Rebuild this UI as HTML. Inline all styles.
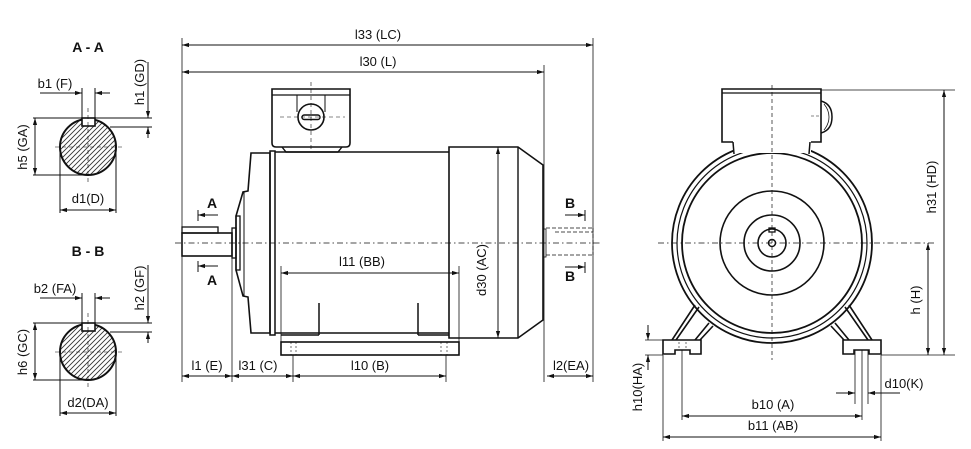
<!DOCTYPE html>
<html><head><meta charset="utf-8"><style>
html,body{margin:0;padding:0;background:#fff;}
svg{display:block;}
text{font-family:"Liberation Sans",sans-serif;font-size:13px;fill:#111;}
.b{font-weight:bold;font-size:14px;}
</style></head><body>
<svg width="971" height="449" viewBox="0 0 971 449" xmlns="http://www.w3.org/2000/svg">
<defs>
<marker id="ar" viewBox="0 0 10 10" refX="10" refY="5" markerWidth="7" markerHeight="7" orient="auto-start-reverse"><path d="M0,2 L10,5 L0,8 Z" fill="#111"/></marker>
<clipPath id="cc"><circle cx="0" cy="0" r="28"/></clipPath>
<g id="hatch" stroke="#333" stroke-width="0.9">
<line x1="-85" y1="30" x2="-25" y2="-30"/><line x1="-80" y1="30" x2="-20" y2="-30"/><line x1="-75" y1="30" x2="-15" y2="-30"/><line x1="-70" y1="30" x2="-10" y2="-30"/><line x1="-65" y1="30" x2="-5" y2="-30"/><line x1="-60" y1="30" x2="0" y2="-30"/><line x1="-55" y1="30" x2="5" y2="-30"/><line x1="-50" y1="30" x2="10" y2="-30"/><line x1="-45" y1="30" x2="15" y2="-30"/><line x1="-40" y1="30" x2="20" y2="-30"/><line x1="-35" y1="30" x2="25" y2="-30"/><line x1="-30" y1="30" x2="30" y2="-30"/><line x1="-25" y1="30" x2="35" y2="-30"/><line x1="-20" y1="30" x2="40" y2="-30"/><line x1="-15" y1="30" x2="45" y2="-30"/><line x1="-10" y1="30" x2="50" y2="-30"/><line x1="-5" y1="30" x2="55" y2="-30"/><line x1="0" y1="30" x2="60" y2="-30"/><line x1="5" y1="30" x2="65" y2="-30"/><line x1="10" y1="30" x2="70" y2="-30"/><line x1="15" y1="30" x2="75" y2="-30"/><line x1="20" y1="30" x2="80" y2="-30"/><line x1="25" y1="30" x2="85" y2="-30"/>
</g>
</defs>
<g transform="translate(88,147)" clip-path="url(#cc)"><use href="#hatch"/></g>
<g transform="translate(88,352)" clip-path="url(#cc)"><use href="#hatch"/></g>
<g fill="none" stroke="#111" stroke-width="1">
<!-- ===== Section A-A ===== -->
<circle cx="88" cy="147" r="28" stroke-width="2"/>
<rect x="82" y="118" width="13" height="8" fill="#fff" stroke-width="1.6"/>
<line x1="55" y1="147" x2="123" y2="147" stroke-dasharray="4,3" stroke-width="0.6"/>
<line x1="88" y1="108" x2="88" y2="182" stroke-dasharray="4,3" stroke-width="0.6"/>
<line x1="82" y1="88" x2="82" y2="118"/><line x1="95" y1="88" x2="95" y2="118"/>
<line x1="40" y1="93" x2="82" y2="93" marker-end="url(#ar)"/><line x1="110" y1="93" x2="95" y2="93" marker-end="url(#ar)"/>
<line x1="33" y1="118" x2="152" y2="118"/><line x1="110" y1="127" x2="152" y2="127"/>
<line x1="148" y1="62" x2="148" y2="118" marker-end="url(#ar)"/><line x1="148" y1="138" x2="148" y2="127" marker-end="url(#ar)"/>
<line x1="35" y1="118" x2="35" y2="175" marker-start="url(#ar)" marker-end="url(#ar)"/>
<line x1="33" y1="175" x2="88" y2="175"/>
<line x1="60" y1="147" x2="60" y2="213"/><line x1="116" y1="147" x2="116" y2="213"/>
<line x1="60" y1="210" x2="116" y2="210" marker-start="url(#ar)" marker-end="url(#ar)"/>
<!-- ===== Section B-B ===== -->
<circle cx="88" cy="352" r="28" stroke-width="2"/>
<rect x="82" y="323" width="13" height="8" fill="#fff" stroke-width="1.6"/>
<line x1="55" y1="352" x2="123" y2="352" stroke-dasharray="4,3" stroke-width="0.6"/>
<line x1="88" y1="313" x2="88" y2="387" stroke-dasharray="4,3" stroke-width="0.6"/>
<line x1="82" y1="293" x2="82" y2="323"/><line x1="95" y1="293" x2="95" y2="323"/>
<line x1="40" y1="298" x2="82" y2="298" marker-end="url(#ar)"/><line x1="110" y1="298" x2="95" y2="298" marker-end="url(#ar)"/>
<line x1="33" y1="323" x2="152" y2="323"/><line x1="110" y1="332" x2="152" y2="332"/>
<line x1="148" y1="265" x2="148" y2="323" marker-end="url(#ar)"/><line x1="148" y1="343" x2="148" y2="332" marker-end="url(#ar)"/>
<line x1="35" y1="323" x2="35" y2="380" marker-start="url(#ar)" marker-end="url(#ar)"/>
<line x1="33" y1="380" x2="88" y2="380"/>
<line x1="60" y1="352" x2="60" y2="416"/><line x1="116" y1="352" x2="116" y2="416"/>
<line x1="60" y1="413" x2="116" y2="413" marker-start="url(#ar)" marker-end="url(#ar)"/>

<!-- ===== Side view ===== -->
<line x1="182" y1="38" x2="182" y2="382" stroke-width="0.8"/>
<line x1="593" y1="38" x2="593" y2="382" stroke-width="0.8"/>
<line x1="544" y1="65" x2="544" y2="382" stroke-width="0.8"/>
<line x1="182" y1="45" x2="593" y2="45" marker-start="url(#ar)" marker-end="url(#ar)"/>
<line x1="182" y1="72" x2="544" y2="72" marker-start="url(#ar)" marker-end="url(#ar)"/>
<path d="M272,89 H350 V143 Q350,147 346,147 H276 Q272,147 272,143 Z" stroke-width="1.6"/>
<line x1="272" y1="95" x2="350" y2="95" stroke-width="1.2"/>
<path d="M282,147 L286,152 H338 L342,147" stroke-width="1.4"/>
<line x1="297" y1="95" x2="297" y2="112"/><line x1="325" y1="95" x2="325" y2="112"/>
<circle cx="311" cy="117" r="13" fill="#fff" stroke-width="1.6"/>
<rect x="302" y="115" width="18" height="4.5" rx="2.2" stroke-width="1.4"/>
<line x1="280" y1="117" x2="345" y2="117" stroke-dasharray="4,3" stroke-width="0.6"/>
<line x1="311" y1="82" x2="311" y2="150" stroke-dasharray="4,3" stroke-width="0.6"/>
<path d="M251,153 L270,153 L270,333 L251,333 L248,297 L243,296 L236,270 L236,216 L243,192 L248,191 Z" stroke-width="1.6"/>
<line x1="244" y1="192" x2="244" y2="296"/>
<rect x="236" y="216" width="4" height="54" stroke-width="1.3"/>
<rect x="232" y="228" width="4" height="30" stroke-width="1.3"/>
<rect x="270" y="151" width="5" height="184" stroke-width="1.5"/>
<rect x="182" y="233" width="50" height="23" stroke-width="1.6"/>
<rect x="182" y="227" width="36" height="6" stroke-width="1.3"/>
<path d="M275,152 H449 M275,333 H449" stroke-width="1.6"/>
<path d="M449,147 H518 L543,165 V320 L518,338 H449 Z" stroke-width="1.6"/>
<line x1="518" y1="147" x2="518" y2="338" stroke-width="1.4"/>
<line x1="319" y1="303" x2="319" y2="335" stroke-width="1.5"/>
<line x1="418" y1="303" x2="418" y2="335" stroke-width="1.5"/>
<path d="M281,335 H319 M418,335 H449" stroke-width="1.5"/>
<rect x="281" y="342" width="178" height="13" stroke-width="1.6"/>
<path d="M291,342 V355 M296,342 V355 M441,342 V355 M447,342 V355" stroke-dasharray="2,2" stroke-width="0.6"/>
<rect x="543" y="229" width="3" height="28" stroke-width="0.8"/>
<path d="M546,228 H593 M555,232 H593 M546,255 H593 M593,228 V255" stroke-dasharray="4,2" stroke-width="0.8"/>
<line x1="175" y1="243" x2="600" y2="243" stroke-dasharray="6,3,1.5,3" stroke-width="0.7"/>
<line x1="218" y1="215" x2="198" y2="215" marker-end="url(#ar)"/><line x1="198" y1="210" x2="198" y2="221"/>
<line x1="218" y1="266" x2="198" y2="266" marker-end="url(#ar)"/><line x1="198" y1="261" x2="198" y2="272"/>
<line x1="565" y1="215" x2="585" y2="215" marker-end="url(#ar)"/><line x1="585" y1="210" x2="585" y2="221"/>
<line x1="565" y1="267" x2="585" y2="267" marker-end="url(#ar)"/><line x1="585" y1="262" x2="585" y2="273"/>
<line x1="281" y1="273" x2="459" y2="273" marker-start="url(#ar)" marker-end="url(#ar)"/>
<line x1="281" y1="266" x2="281" y2="342" stroke-width="0.8"/>
<line x1="459" y1="266" x2="459" y2="342" stroke-width="0.8"/>
<line x1="498" y1="147" x2="498" y2="338" marker-start="url(#ar)" marker-end="url(#ar)"/>
<line x1="232" y1="258" x2="232" y2="382" stroke-width="0.8"/>
<line x1="293" y1="355" x2="293" y2="382" stroke-width="0.8"/>
<line x1="446" y1="355" x2="446" y2="382" stroke-width="0.8"/>
<line x1="182" y1="376" x2="232" y2="376" marker-start="url(#ar)" marker-end="url(#ar)"/>
<line x1="232" y1="376" x2="293" y2="376" marker-start="url(#ar)" marker-end="url(#ar)"/>
<line x1="293" y1="376" x2="446" y2="376" marker-start="url(#ar)" marker-end="url(#ar)"/>
<line x1="547" y1="376" x2="593" y2="376" marker-start="url(#ar)" marker-end="url(#ar)"/>

<!-- ===== Front view ===== -->
<path d="M722,89 H821 V142 H722 Z" stroke-width="1.6"/>
<line x1="722" y1="93" x2="821" y2="93" stroke-width="1.2"/>
<path d="M821,101 Q832,104 832,117 Q832,130 821,133" stroke-width="1.5"/>
<path d="M824,104 Q829,110 829,117 Q829,124 824,130" stroke-width="0.8"/>
<line x1="811" y1="116" x2="821" y2="116" stroke-dasharray="3,2" stroke-width="0.6"/>
<circle cx="772" cy="243" r="100" stroke-width="1.8" fill="#fff"/>
<circle cx="772" cy="243" r="95" stroke-width="1.2"/>
<circle cx="772" cy="243" r="90" stroke-width="1.8"/>
<rect x="733" y="140" width="78" height="13" fill="#fff" stroke="none"/>
<path d="M733,142 L734,154 M810,142 L809,154" stroke-width="1.5"/>
<circle cx="772" cy="243" r="52" stroke-width="1.6"/>
<circle cx="772" cy="243" r="28" stroke-width="1.6"/>
<circle cx="772" cy="243" r="14" stroke-width="1.6"/>
<circle cx="772" cy="243" r="3.5" stroke-width="1.5"/>
<rect x="769" y="228" width="6" height="4" stroke-width="1.3"/>
<g stroke-width="1.6">
<path d="M672,340 L695,305 M676,340 L699,307"/>
<path d="M695,340 L709,323 M700,340 L713,326"/>
<path d="M663,340 H701 V354 H690 V350 H675 V354 H663 Z" fill="#fff"/>
<path d="M872,340 L849,305 M868,340 L845,307"/>
<path d="M849,340 L835,323 M844,340 L831,326"/>
<path d="M881,340 H843 V354 H854 V350 H869 V354 H881 Z" fill="#fff"/>
</g>
<path d="M679,342 V350 M686,342 V350" stroke-dasharray="2,2" stroke-width="0.6"/>
<line x1="658" y1="243" x2="935" y2="243" stroke-dasharray="6,3,1.5,3" stroke-width="0.7"/>
<line x1="772" y1="85" x2="772" y2="360" stroke-dasharray="4,3" stroke-width="0.7"/>
<line x1="821" y1="90" x2="955" y2="90" stroke-width="0.8"/>
<line x1="881" y1="355" x2="955" y2="355" stroke-width="0.8"/>
<line x1="944" y1="90" x2="944" y2="355" marker-start="url(#ar)" marker-end="url(#ar)"/>
<line x1="928" y1="243" x2="928" y2="355" marker-start="url(#ar)" marker-end="url(#ar)"/>
<line x1="645" y1="340" x2="663" y2="340" stroke-width="0.8"/>
<line x1="645" y1="355" x2="663" y2="355" stroke-width="0.8"/>
<line x1="648" y1="325" x2="648" y2="340" marker-end="url(#ar)"/>
<line x1="648" y1="370" x2="648" y2="355" marker-end="url(#ar)"/>
<line x1="663" y1="355" x2="663" y2="441" stroke-width="0.8"/>
<line x1="881" y1="355" x2="881" y2="441" stroke-width="0.8"/>
<line x1="682" y1="350" x2="682" y2="420" stroke-width="0.8"/>
<path d="M855,350 V404 M862,350 V420 M868,350 V404" stroke-width="0.8"/>
<line x1="682" y1="416" x2="862" y2="416" marker-start="url(#ar)" marker-end="url(#ar)"/>
<line x1="663" y1="437" x2="881" y2="437" marker-start="url(#ar)" marker-end="url(#ar)"/>
<line x1="836" y1="393" x2="855" y2="393" marker-end="url(#ar)"/>
<line x1="900" y1="393" x2="868" y2="393" marker-end="url(#ar)"/>
</g>
<text x="88" y="52" class="b" text-anchor="middle">A - A</text>
<text x="55" y="88" text-anchor="middle">b1 (F)</text>
<text transform="translate(144,82) rotate(-90)" text-anchor="middle">h1 (GD)</text>
<text transform="translate(27,147) rotate(-90)" text-anchor="middle">h5 (GA)</text>
<text x="88" y="203" text-anchor="middle">d1(D)</text>
<text x="88" y="256" class="b" text-anchor="middle">B - B</text>
<text x="55" y="293" text-anchor="middle">b2 (FA)</text>
<text transform="translate(144,288) rotate(-90)" text-anchor="middle">h2 (GF)</text>
<text transform="translate(27,352) rotate(-90)" text-anchor="middle">h6 (GC)</text>
<text x="88" y="407" text-anchor="middle">d2(DA)</text>
<text x="378" y="39" text-anchor="middle">l33 (LC)</text>
<text x="378" y="66" text-anchor="middle">l30 (L)</text>
<text x="212" y="208" class="b" text-anchor="middle">A</text>
<text x="212" y="285" class="b" text-anchor="middle">A</text>
<text x="570" y="208" class="b" text-anchor="middle">B</text>
<text x="570" y="281" class="b" text-anchor="middle">B</text>
<text x="362" y="266" text-anchor="middle">l11 (BB)</text>
<text transform="translate(486,270) rotate(-90)" text-anchor="middle">d30 (AC)</text>
<text x="207" y="370" text-anchor="middle">l1 (E)</text>
<text x="258" y="370" text-anchor="middle">l31 (C)</text>
<text x="370" y="370" text-anchor="middle">l10 (B)</text>
<text x="571" y="370" text-anchor="middle">l2(EA)</text>
<text transform="translate(936,187) rotate(-90)" text-anchor="middle">h31 (HD)</text>
<text transform="translate(920,300) rotate(-90)" text-anchor="middle">h (H)</text>
<text transform="translate(642,387) rotate(-90)" text-anchor="middle">h10(HA)</text>
<text x="904" y="388" text-anchor="middle">d10(K)</text>
<text x="773" y="409" text-anchor="middle">b10 (A)</text>
<text x="773" y="430" text-anchor="middle">b11 (AB)</text>
</svg>
</body></html>
